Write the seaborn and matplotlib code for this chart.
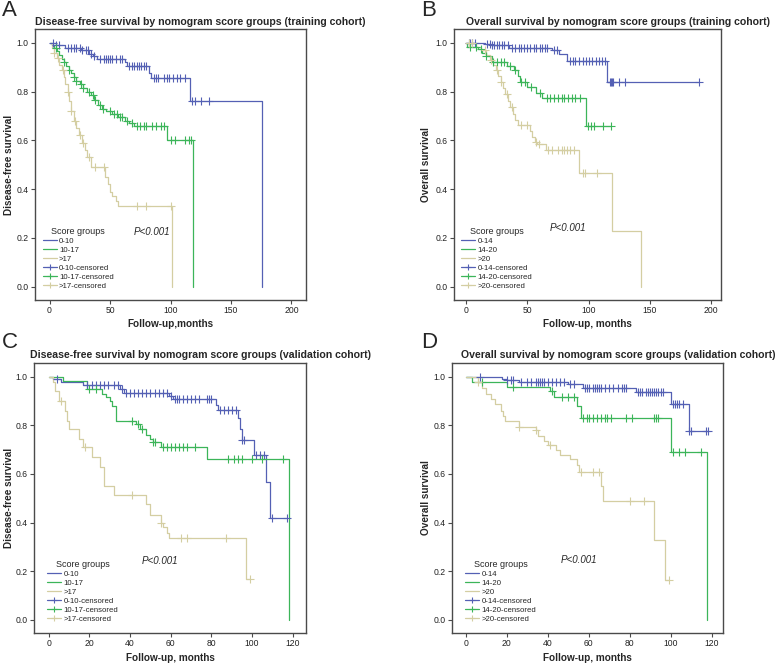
import numpy as np
import pandas as pd
import matplotlib
matplotlib.use("Agg")
import matplotlib.pyplot as plt
from matplotlib.lines import Line2D
import seaborn as sns

# ---- A: disease-free survival, training cohort ----
a_blue_t = [5, 13, 26, 33, 36, 39, 62, 64, 82, 84, 116, 176]
a_blue_s = [0.99, 0.978, 0.97, 0.955, 0.945, 0.934, 0.92, 0.905, 0.875, 0.855, 0.761, 0.0]
a_blue_c = [3, 5, 8, 15, 18, 20, 22, 25, 27, 30, 32, 34, 37, 42, 45, 47, 48, 50, 52, 55, 58, 60,
            66, 68, 70, 72, 74, 76, 78, 80, 86, 88, 90, 95, 97, 99, 102, 105, 108, 112, 118, 120, 125, 132]
a_green_t = [2, 4, 6, 8, 10, 12, 14, 16, 18, 20, 22, 25, 28, 31, 34, 37, 40, 43, 47, 52, 57, 62, 66, 70, 97, 119]
a_green_s = [0.99, 0.98, 0.965, 0.95, 0.935, 0.92, 0.905, 0.89, 0.875, 0.86, 0.845, 0.83, 0.815, 0.80,
             0.785, 0.765, 0.745, 0.73, 0.72, 0.71, 0.695, 0.68, 0.67, 0.66, 0.60, 0.0]
a_green_c = [5, 12, 16, 20, 22, 26, 28, 33, 36, 38, 42, 44, 50, 53, 56, 58, 60, 64, 68, 72, 75, 78, 80,
             85, 88, 92, 95, 100, 104, 112, 115, 117]
a_beige_t = [2, 4, 6, 8, 10, 12, 13, 15, 16, 18, 20, 22, 24, 27, 29, 31, 34, 46, 48, 50, 52, 55, 57, 101]
a_beige_s = [0.98, 0.96, 0.94, 0.91, 0.89, 0.86, 0.83, 0.80, 0.76, 0.72, 0.68, 0.65, 0.62, 0.59, 0.56,
             0.53, 0.49, 0.45, 0.42, 0.39, 0.37, 0.35, 0.33, 0.0]
a_beige_c = [4, 7, 11, 15, 18, 21, 25, 28, 33, 38, 45, 72, 80, 100]

# ---- B: overall survival, training cohort ----
b_blue_t = [15, 20, 35, 70, 76, 82, 115]
b_blue_s = [0.996, 0.99, 0.98, 0.97, 0.955, 0.925, 0.84]
b_blue_c = [2, 3, 5, 7, 17, 19, 21, 23, 25, 27, 29, 31, 34, 37, 40, 43, 45, 47, 50, 52, 55, 57, 60, 62,
            64, 66, 72, 74, 85, 87, 89, 92, 95, 98, 100, 103, 106, 108, 111, 113, 117, 118, 119, 120,
            125, 130, 190]
b_green_t = [1, 10, 13, 16, 21, 33, 39, 42, 44, 50, 57, 62, 97.5]
b_green_s = [0.985, 0.974, 0.96, 0.945, 0.92, 0.905, 0.89, 0.865, 0.84, 0.82, 0.795, 0.775, 0.66]
b_green_c = [3, 8, 12, 16, 22, 25, 28, 31, 36, 40, 45, 48, 53, 60, 66, 68, 72, 75, 78, 80, 83, 86, 89,
             93, 99, 102, 104, 112, 118]
b_beige_t = [8, 12, 16, 19, 22, 24, 26, 28, 30, 32, 34, 36, 38, 40, 42, 52, 54, 56, 58, 65, 92, 119, 143]
b_beige_s = [0.985, 0.97, 0.95, 0.93, 0.91, 0.89, 0.865, 0.84, 0.815, 0.79, 0.76, 0.735, 0.71, 0.685,
             0.665, 0.64, 0.615, 0.595, 0.585, 0.56, 0.465, 0.23, 0.0]
b_beige_c = [2, 5, 15, 20, 25, 28, 33, 37, 45, 50, 57, 59, 67, 70, 75, 78, 80, 82, 85, 88, 95, 97, 107]

# ---- C: disease-free survival, validation cohort ----
c_blue_t = [2, 6, 17, 35, 37, 59, 61, 82, 83, 93, 94, 95, 101, 107, 109]
c_blue_s = [0.99, 0.977, 0.966, 0.95, 0.935, 0.921, 0.907, 0.884, 0.862, 0.83, 0.785, 0.74, 0.68, 0.565, 0.42]
c_blue_c = [4, 19, 21, 23, 25, 27, 29, 32, 34, 36, 38, 40, 42, 44, 46, 48, 50, 52, 54, 56, 58, 60, 62,
            63, 64, 66, 68, 70, 72, 74, 78, 79, 80, 84, 86, 88, 90, 92, 95, 96, 102, 104, 106, 110, 117]
c_green_t = [7, 19, 26, 28, 30, 31, 33, 43, 45, 48, 50, 51, 55, 78, 118]
c_green_s = [0.984, 0.95, 0.93, 0.915, 0.90, 0.88, 0.82, 0.805, 0.785, 0.76, 0.745, 0.73, 0.71, 0.66, 0.0]
c_green_c = [20, 23, 41, 44, 46, 51, 52, 56, 58, 60, 62, 64, 66, 68, 72, 88, 91, 93, 95, 100, 105, 115]
c_beige_t = [2, 3, 5, 8, 9, 10, 15, 17, 21, 25, 27, 32, 48, 50, 55, 56, 58, 59, 97]
c_beige_s = [0.98, 0.94, 0.90, 0.86, 0.82, 0.785, 0.745, 0.71, 0.67, 0.63, 0.55, 0.515, 0.475, 0.43,
             0.40, 0.38, 0.355, 0.335, 0.168]
c_beige_c = [6, 18, 41, 55, 65, 68, 87, 99]

# ---- D: overall survival, validation cohort ----
d_blue_t = [17.5, 20, 26, 50, 57, 83, 100, 109]
d_blue_s = [0.993, 0.987, 0.98, 0.97, 0.956, 0.936, 0.888, 0.779]
d_blue_c = [7, 20, 22, 23, 27, 30, 32, 34, 35, 36, 37, 38, 40, 42, 44, 46, 48, 51, 53, 58, 59, 60, 62,
            63, 64, 65, 66, 68, 70, 72, 74, 76, 77, 78, 84, 85, 86, 88, 89, 90, 91, 92, 93, 94, 95, 96,
            101, 102, 103, 104, 106, 109, 110, 117, 118]
d_green_t = [3, 20, 41, 43, 54, 56, 100, 117.5]
d_green_s = [0.98, 0.957, 0.943, 0.915, 0.88, 0.83, 0.69, 0.0]
d_green_c = [8, 23, 42, 47, 50, 53, 57, 59, 60, 62, 64, 66, 68, 69, 71, 78, 81, 92, 93, 94, 101, 104, 107, 115]
d_beige_t = [6, 8, 10, 12, 14, 17, 18, 19, 26, 34, 35, 38, 40, 44, 46, 51, 54, 55, 66, 67, 92, 97]
d_beige_s = [0.977, 0.955, 0.93, 0.91, 0.89, 0.86, 0.84, 0.82, 0.795, 0.78, 0.755, 0.735, 0.72, 0.70,
             0.68, 0.66, 0.635, 0.608, 0.55, 0.49, 0.326, 0.163]
d_beige_c = [6, 26, 34, 41, 56, 62, 65, 80, 87, 99]

labels_dfs = ['0-10', '10-17', '>17']
labels_os = ['0-14', '14-20', '>20']
colores = ['#5460B4', '#3CB559', '#D4CEA2']

sns.set_theme(style='white')
plt.rcParams['font.family'] = ['Liberation Sans', 'DejaVu Sans']


def curva_km(ax, t_ev, s_ev, t_cens, color):
    # escalera de Kaplan-Meier
    fin = max(t_ev[-1], max(t_cens))
    df = pd.DataFrame({'t': [0] + list(t_ev) + [fin],
                       's': [1.0] + list(s_ev) + [s_ev[-1]]})
    sns.lineplot(data=df, x='t', y='s', drawstyle='steps-post', estimator=None, sort=False,
                 color=color, lw=0.9, ax=ax)
    # censurados sobre la curva
    idx = np.searchsorted(np.array(t_ev), np.array(t_cens), side='right')
    s_c = np.r_[1.0, s_ev][idx]
    sns.scatterplot(x=t_cens, y=s_c, marker='+', s=26, color=color, linewidth=0.8, ax=ax, zorder=3)


def panel(rect, grupos, etiquetas, xlim, xticks, titulo, title_xy, ylabel, ylab_x, xlabel,
          letra, letra_xy, p_xy, leg_x):
    ax = fig.add_axes(rect)
    for (t_ev, s_ev, t_c), col in zip(grupos, colores):
        curva_km(ax, t_ev, s_ev, t_c, col)
    ax.set_xlim(*xlim)
    ax.set_ylim(-0.055, 1.057)
    ax.set_xticks(xticks)
    ax.set_yticks([0, 0.2, 0.4, 0.6, 0.8, 1.0])
    ax.set_yticklabels([f'{v:.1f}' for v in [0, 0.2, 0.4, 0.6, 0.8, 1.0]])
    ax.set_xlabel('')
    ax.set_ylabel('')
    for sp in ax.spines.values():
        sp.set_color('#4a4a4a')
        sp.set_linewidth(1.0)
    ax.tick_params(axis='both', which='both', bottom=True, left=True, length=3, width=0.8,
                   color='#4a4a4a', labelsize=6.2, pad=1.5, labelcolor='#222222')
    ax.text(p_xy[0], p_xy[1], 'P<0.001', style='italic', fontsize=7, ha='center', va='center')

    handles = [Line2D([], [], color=c, lw=0.9) for c in colores]
    handles += [Line2D([], [], color=c, lw=0.9, marker='+', markersize=5, mew=0.8) for c in colores]
    labs = etiquetas + [e + '-censored' for e in etiquetas]
    ax.legend(handles, labs, title='Score groups', loc='upper left', bbox_to_anchor=(leg_x, 0.27),
              frameon=False, fontsize=5.6, title_fontsize=6.5, handlelength=1.8, handletextpad=0.3,
              labelspacing=0.2, borderpad=0, borderaxespad=0, numpoints=1)

    fig.text(title_xy[0] / W, 1 - title_xy[1] / H, titulo, fontsize=7.6, fontweight='bold',
             ha='left', va='center')
    fig.text(ylab_x / W, rect[1] + rect[3] / 2, ylabel, rotation=90, fontsize=7.2,
             fontweight='bold', ha='center', va='center')
    fig.text(rect[0] + rect[2] / 2, 1 - xlabel[1] / H, xlabel[0], fontsize=7.2, fontweight='bold',
             ha='center', va='center')
    fig.text(letra_xy[0] / W, 1 - letra_xy[1] / H, letra, fontsize=16, ha='left', va='top')
    return ax


fig = plt.figure(figsize=(7.78, 6.64), dpi=100)
W, H = 778, 664


def rect_px(l, r, t, b):
    return [l / W, 1 - b / H, (r - l) / W, (b - t) / H]


panel(rect_px(35, 306, 29, 300),
      [(a_blue_t, a_blue_s, a_blue_c), (a_green_t, a_green_s, a_green_c), (a_beige_t, a_beige_s, a_beige_c)],
      labels_dfs, (-12, 212), [0, 50, 100, 150, 200],
      'Disease-free survival by nomogram score groups (training cohort)', (35, 22),
      'Disease-free survival', 9, ('Follow-up,months', 324), 'A', (2, 0), (85, 0.225), 0.028)

panel(rect_px(454, 721, 29, 300),
      [(b_blue_t, b_blue_s, b_blue_c), (b_green_t, b_green_s, b_green_c), (b_beige_t, b_beige_s, b_beige_c)],
      labels_os, (-10, 208), [0, 50, 100, 150, 200],
      'Overall survival by nomogram score groups (training cohort)', (466, 22),
      'Overall survival', 426, ('Follow-up, months', 324), 'B', (421, 0), (83, 0.24), 0.028)

panel(rect_px(34, 306, 363, 633),
      [(c_blue_t, c_blue_s, c_blue_c), (c_green_t, c_green_s, c_green_c), (c_beige_t, c_beige_s, c_beige_c)],
      labels_dfs, (-7.3, 126.5), [0, 20, 40, 60, 80, 100, 120],
      'Disease-free survival by nomogram score groups (validation cohort)', (30, 355),
      'Disease-free survival', 9, ('Follow-up, months', 658), 'C', (2, 332), (54.5, 0.243), 0.048)

panel(rect_px(452, 723, 363, 633),
      [(d_blue_t, d_blue_s, d_blue_c), (d_green_t, d_green_s, d_green_c), (d_beige_t, d_beige_s, d_beige_c)],
      labels_os, (-6.8, 125.5), [0, 20, 40, 60, 80, 100, 120],
      'Overall survival by nomogram score groups (validation cohort)', (461, 355),
      'Overall survival', 426, ('Follow-up, months', 658), 'D', (421, 332), (55, 0.247), 0.048)

fig.savefig('out.png', dpi=100, facecolor='white')
